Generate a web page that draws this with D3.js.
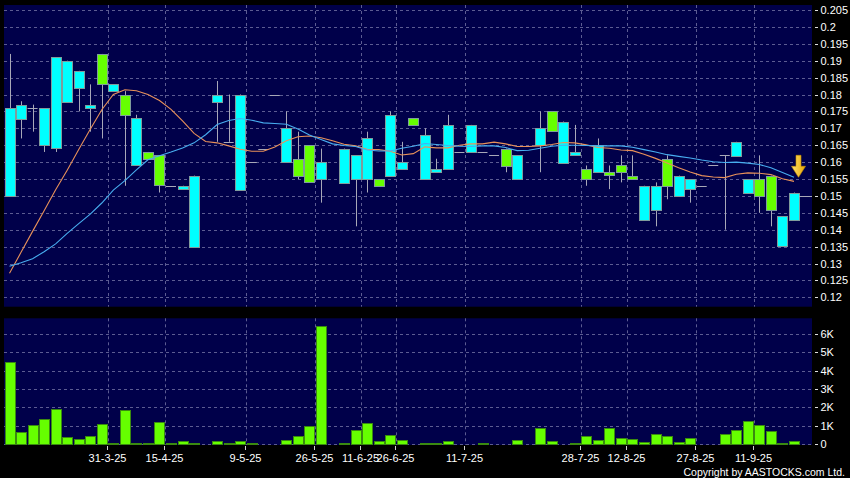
<!DOCTYPE html>
<html><head><meta charset="utf-8">
<script src="https://cdn.jsdelivr.net/npm/d3@7/dist/d3.min.js"></script>
<style>html,body{margin:0;padding:0;background:#000;}svg{display:block;}</style>
</head><body>
<svg id="chart" width="850" height="478"></svg>
<script>
// ---- DATA ----
const opens  = [.150,.173,.176,.165,.164,.178,.182,.176,.192,.181,.180,.159,.163,.162,.153,.152,.135,null,.178,.166,.152,.160,.164,.180,.160,.161,.165,.155,null,.154,.155,.155,.155,.156,.158,.173,.155,.157,.158,.163,.163,.163,.162,.164,.155,null,.165,.175,.160,.162,.158,.157,.157,.159,.156,.143,.146,.161,.150,.152,.153,.159,.162,.162,.151,.155,.156,.135,.143];
const highs  = [.192,.178,.177,.176,.191,.190,.187,.183,.192,.183,.181,.174,.163,.162,.153,.153,.156,null,.184,.180,.180,.160,.164,.180,.175,.169,.165,.164,null,.164,.162,.169,.155,.175,.166,.173,.170,.161,.174,.163,.171,.163,.162,.164,.162,null,.175,.175,.172,.171,.159,.167,.159,.162,.162,.153,.154,.162,.156,.155,.153,.159,.162,.166,.155,.162,.156,.144,.151];
const lows   = [.150,.167,.169,.163,.163,.178,.175,.169,.167,.181,.153,.159,.161,.151,.153,.152,.135,null,.166,.166,.152,.160,.164,.180,.160,.155,.154,.148,null,.154,.141,.151,.153,.156,.158,.171,.155,.157,.158,.163,.163,.163,.162,.157,.155,null,.157,.169,.160,.162,.153,.157,.152,.154,.155,.143,.141,.149,.150,.148,.153,.159,.140,.162,.151,.145,.141,.135,.143];
const closes = [.176,.177,.176,.176,.191,.190,.187,.177,.183,.183,.174,.173,.161,.153,.153,.153,.156,null,.180,.166,.180,.160,.164,.180,.170,.156,.154,.160,null,.164,.162,.167,.153,.174,.160,.171,.168,.158,.171,.163,.171,.163,.162,.159,.162,null,.170,.169,.172,.163,.155,.165,.156,.157,.155,.153,.153,.153,.156,.155,.153,.159,.162,.166,.155,.150,.146,.144,.151];
const volumes = [4450,620,1050,1330,1910,380,240,450,1090,50,1850,70,70,1200,70,150,20,0,150,70,150,70,10,10,220,400,960,6450,0,70,760,1130,180,470,200,10,50,50,130,10,10,50,10,10,200,0,890,180,10,70,450,200,890,310,250,110,510,450,110,330,10,10,530,730,1240,1020,690,20,130];
const maShort = [.1271,.1333,.1395,.1456,.1518,.1576,.1637,.1697,.1755,.1800,.1814,.1811,.1800,.1782,.1756,.1722,.1685,.1661,.1657,.1648,.1638,.1632,.1632,.1645,.1663,.1675,.1677,.1672,.1663,.1653,.1648,.1638,.1637,.1632,.1621,.1625,.1645,.1642,.1642,.1650,.1654,.1654,.1659,.1654,.1646,.1646,.1648,.1652,.1658,.1657,.1651,.1643,.1641,.1636,.1634,.1623,.1611,.1597,.1583,.1571,.1560,.1556,.1554,.1564,.1568,.1567,.1563,.1551,.1543];
const maLong  = [.1292,.1302,.1314,.1335,.1358,.1389,.1418,.1446,.1479,.1517,.1545,.1577,.1607,.1619,.1630,.1642,.1657,.1681,.1711,.1723,.1729,.1724,.1716,.1714,.1712,.1698,.1680,.1667,.1654,.1649,.1646,.1636,.1633,.1633,.1641,.1647,.1655,.1652,.1649,.1647,.1646,.1648,.1648,.1643,.1634,.1635,.1641,.1647,.1650,.1650,.1649,.1648,.1648,.1648,.1644,.1637,.1630,.1622,.1617,.1612,.1606,.1601,.1599,.1600,.1597,.1593,.1583,.1569,.1555];
const priceTicks = [0.12,0.125,0.13,0.135,0.14,0.145,0.15,0.155,0.16,0.165,0.17,0.175,0.18,0.185,0.19,0.195,0.2,0.205];
const priceTickLabels = ["0.12","0.125","0.13","0.135","0.14","0.145","0.15","0.155","0.16","0.165","0.17","0.175","0.18","0.185","0.19","0.195","0.2","0.205"];
const volTicks = [0,1000,2000,3000,4000,5000,6000];
const volTickLabels = ["0","1K","2K","3K","4K","5K","6K"];
const dateLabels = ["31-3-25","15-4-25","9-5-25","26-5-25","11-6-25","26-6-25","11-7-25","28-7-25","12-8-25","27-8-25","11-9-25"];
const dateIndex  = [9,14,21,27,31,34,40,50,54,60,65];
const lastPrice = 0.150;

// ---- DRAW ----
const svg = d3.select("#chart");
const FONT = "'Liberation Sans', Arial, sans-serif";
const N = closes.length;
const idx = d3.range(N);

const mainP = {x0:4, x1:812, y0:5, y1:306.7};
const volP  = {x0:4, x1:812, y0:318.3, y1:445};

const x = d3.scaleLinear().domain([0, N-1]).range([9.5, 794]);
const step = x(1) - x(0);
const y = d3.scaleLinear().domain([0.12, 0.205]).range([297.3, 10]);
const yv = d3.scaleLinear().domain([0, 6000]).range([443.8, 334]);

svg.append("rect").attr("width",850).attr("height",478).attr("fill","#000");

const defs = svg.append("defs");
defs.append("clipPath").attr("id","clipMain").append("rect")
  .attr("x",mainP.x0).attr("y",mainP.y0).attr("width",mainP.x1-mainP.x0).attr("height",mainP.y1-mainP.y0);
defs.append("clipPath").attr("id","clipVol").append("rect")
  .attr("x",volP.x0).attr("y",volP.y0).attr("width",volP.x1-volP.x0).attr("height",volP.y1-volP.y0);
const grad = defs.append("linearGradient").attr("id","arrowGrad").attr("x1","0").attr("x2","1").attr("y1","0").attr("y2","0");
grad.append("stop").attr("offset","0%").attr("stop-color","#ffe070");
grad.append("stop").attr("offset","100%").attr("stop-color","#e8a800");

[mainP, volP].forEach(p => {
  svg.append("rect").attr("x",p.x0).attr("y",p.y0).attr("width",p.x1-p.x0).attr("height",p.y1-p.y0).attr("fill","#00004a");
});

const gridColor = "#5c5c92";
// horizontal grid main
svg.append("g").selectAll("line").data(priceTicks).join("line")
  .attr("x1",mainP.x0).attr("x2",mainP.x1)
  .attr("y1",d=>Math.round(y(d))+0.5).attr("y2",d=>Math.round(y(d))+0.5)
  .attr("stroke",gridColor).attr("stroke-dasharray","3,3");
// horizontal grid volume
svg.append("g").selectAll("line").data(volTicks).join("line")
  .attr("x1",volP.x0).attr("x2",volP.x1)
  .attr("y1",d=>Math.round(yv(d))+0.5).attr("y2",d=>Math.round(yv(d))+0.5)
  .attr("stroke",gridColor).attr("stroke-dasharray","3,3");
// vertical grid
const gx = i => Math.round(x(i - 0.5)) + 0.5;
[mainP, volP].forEach(p => {
  svg.append("g").selectAll("line").data(dateIndex).join("line")
    .attr("x1",gx).attr("x2",gx).attr("y1",p.y0).attr("y2",p.y1)
    .attr("stroke",gridColor).attr("stroke-dasharray","3,3");
});

// candles
const cg = svg.append("g").attr("clip-path","url(#clipMain)");
const valid = idx.filter(i => closes[i] !== null);
const bw = 10;
cg.selectAll("line.wick").data(valid.filter(i => highs[i] > lows[i])).join("line")
  .attr("class","wick")
  .attr("x1",i=>Math.round(x(i))+0.5).attr("x2",i=>Math.round(x(i))+0.5)
  .attr("y1",i=>y(highs[i])).attr("y2",i=>y(lows[i]))
  .attr("stroke","#a8a8b8").attr("stroke-width",1);
const bodies = valid.filter(i => opens[i] !== closes[i]);
cg.selectAll("rect.body").data(bodies).join("rect")
  .attr("class","body")
  .attr("x",i=>Math.round(x(i)-bw/2)+0.5)
  .attr("y",i=>Math.round(y(Math.max(opens[i],closes[i])))+0.5)
  .attr("width",bw)
  .attr("height",i=>Math.max(1,Math.round(Math.abs(y(opens[i])-y(closes[i])))))
  .attr("fill",i=>closes[i]>opens[i] ? "#00ffff" : "#66ff00")
  .attr("stroke","#7f9c9c").attr("stroke-width",1);
const dojis = valid.filter(i => opens[i] === closes[i]);
cg.selectAll("line.doji").data(dojis).join("line")
  .attr("class","doji")
  .attr("x1",i=>x(i)-bw/2).attr("x2",i=>x(i)+bw/2)
  .attr("y1",i=>Math.round(y(closes[i]))+0.5).attr("y2",i=>Math.round(y(closes[i]))+0.5)
  .attr("stroke","#a8a8b8").attr("stroke-width",1);

// moving averages
const line = arr => d3.line().x(i=>x(i)).y(i=>y(arr[i]))(idx);
cg.append("path").attr("d",line(maShort)).attr("fill","none").attr("stroke","#e8915a").attr("stroke-width",1.1);
cg.append("path").attr("d",line(maLong)).attr("fill","none").attr("stroke","#48aef0").attr("stroke-width",1.1);

// last price marker
svg.append("line").attr("x1",x(N-1)+bw/2).attr("x2",mainP.x1)
  .attr("y1",Math.round(y(lastPrice))+0.5).attr("y2",Math.round(y(lastPrice))+0.5)
  .attr("stroke","#a8a8b8");

// down arrow
const ax = x(N-1)+4.5, ay = y(maLong[N-1]) - 22;
svg.append("path")
  .attr("d",`M${ax-2.5},${ay} L${ax+2.5},${ay} L${ax+2.5},${ay+11} L${ax+7},${ay+11} L${ax},${ay+22} L${ax-7},${ay+11} L${ax-2.5},${ay+11} Z`)
  .attr("fill","url(#arrowGrad)").attr("stroke","#c89000").attr("stroke-width",0.6);

// volume bars
const vg = svg.append("g").attr("clip-path","url(#clipVol)");
vg.selectAll("rect").data(idx).join("rect")
  .attr("x",i=>Math.round(x(i)-bw/2)+0.5)
  .attr("y",i=>Math.round(yv(volumes[i]))+0.5)
  .attr("width",bw)
  .attr("height",i=>Math.max(0,Math.round(yv(0))-Math.round(yv(volumes[i]))))
  .attr("fill","#66ff00").attr("stroke","#3a8a10").attr("stroke-width",1);

// right axes
const axG = svg.append("g").attr("font-family",FONT).attr("font-size","11px").attr("fill","#ffffff");
priceTicks.forEach((t,k) => {
  const yy = Math.round(y(t))+0.5;
  svg.append("line").attr("x1",815).attr("x2",818).attr("y1",yy).attr("y2",yy).attr("stroke","#e0e0e0");
  axG.append("text").attr("x",820.5).attr("y",yy).attr("dy","0.36em").text(priceTickLabels[k]);
});
volTicks.forEach((t,k) => {
  const yy = Math.round(yv(t))+0.5;
  svg.append("line").attr("x1",815).attr("x2",818).attr("y1",yy).attr("y2",yy).attr("stroke","#e0e0e0");
  axG.append("text").attr("x",820.5).attr("y",yy).attr("dy","0.36em").text(volTickLabels[k]);
});

// date axis
dateIndex.forEach((di,k) => {
  const xx = gx(di) - 1;
  svg.append("line").attr("x1",xx).attr("x2",xx).attr("y1",446).attr("y2",450).attr("stroke","#d0d0d0");
  axG.append("text").attr("x",xx).attr("y",462).attr("text-anchor","middle").text(dateLabels[k]);
});

svg.append("text").attr("x",845).attr("y",475.5).attr("text-anchor","end")
  .attr("font-family",FONT).attr("font-size","10.5px").attr("fill","#ffffff")
  .text("Copyright by AASTOCKS.com Ltd.");
</script>
</body></html>
